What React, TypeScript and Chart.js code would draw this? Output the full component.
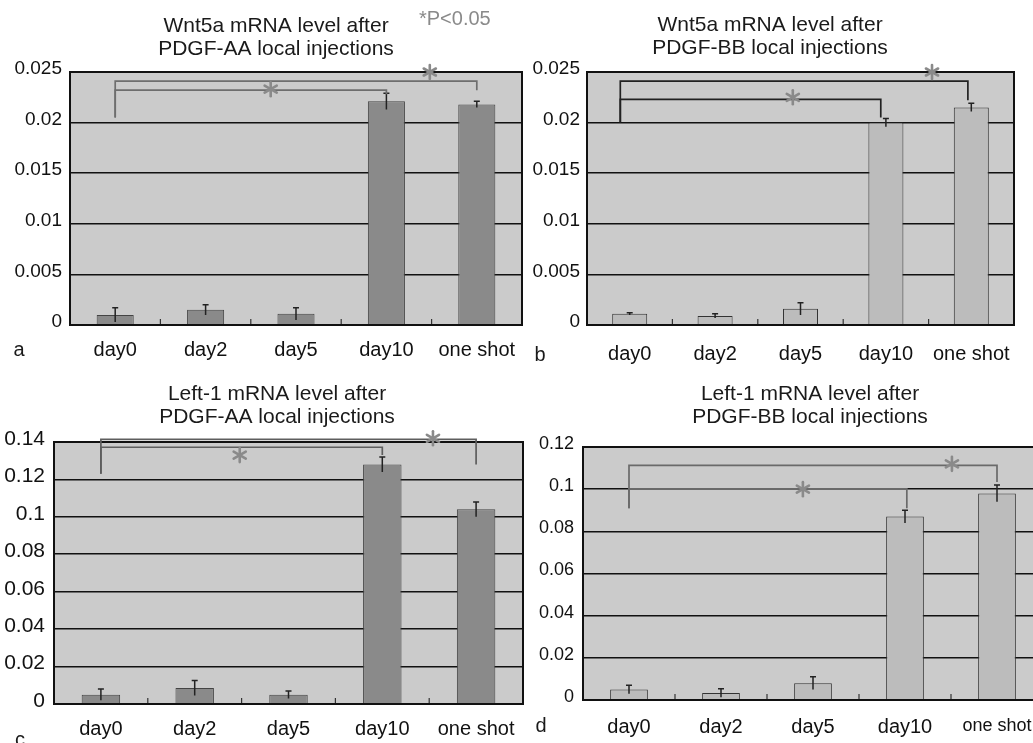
import React, { useEffect, useRef } from "react";
import { Chart, registerables } from "chart.js";
Chart.register(...registerables);

const categories = ["day0", "day2", "day5", "day10", "one shot"];

const wntAAValues = [0.001, 0.0015, 0.0011, 0.0221, 0.0218];
const wntAAErrors = [0.0007, 0.0005, 0.0006, 0.0008, 0.0003];
const wntBBValues = [0.0011, 0.0009, 0.0016, 0.02, 0.0215];
const wntBBErrors = [0.0001, 0.0002, 0.0006, 0.0004, 0.0004];
const leftyAAValues = [0.005, 0.0085, 0.005, 0.128, 0.104];
const leftyAAErrors = [0.003, 0.004, 0.002, 0.004, 0.004];
const leftyBBValues = [0.005, 0.0033, 0.008, 0.087, 0.098];
const leftyBBErrors = [0.002, 0.002, 0.003, 0.003, 0.004];

const wntTicks = ["0", "0.005", "0.01", "0.015", "0.02", "0.025"];
const leftyAATicks = ["0", "0.02", "0.04", "0.06", "0.08", "0.1", "0.12", "0.14"];
const leftyBBTicks = ["0", "0.02", "0.04", "0.06", "0.08", "0.1", "0.12"];

// brackets: [fromIndex, toIndex, lineValue, fromLegValue, toLegValue]
const wntAABrackets = [
  [0, 4, 0.0241, 0.0205, 0.0232],
  [0, 3, 0.0232, 0.0205, 0.0228],
];
const wntBBBrackets = [
  [-0.11, 3.96, 0.0241, 0.02, 0.0222],
  [-0.11, 2.94, 0.0223, 0.02, 0.0205],
];
const leftyAABrackets = [
  [0, 4, 0.1414, 0.123, 0.128],
  [0, 3, 0.1372, 0.123, 0.133],
];
const leftyBBBrackets = [
  [0, 4, 0.1113, 0.091, 0.1034],
  [0, 3.02, 0.1001, 0.091, 0.091],
];
// stars: [index position, value]
const wntAAStars = [[3.48, 0.025], [1.72, 0.0233]];
const wntBBStars = [[3.54, 0.025], [1.91, 0.0225]];
const leftyAAStars = [[3.54, 0.142], [1.48, 0.133]];
const leftyBBStars = [[3.51, 0.112], [1.89, 0.1]];

const SANS = '"Liberation Sans", Arial, sans-serif';

type PanelCfg = {
  box: { left: number; top: number; width: number; height: number };
  area: { left: number; top: number; right: number; bottom: number };
  values: number[];
  errors: number[];
  ticks: string[];
  max: number;
  step: number;
  brackets: number[][];
  stars: number[][];
  title: string[];
  titleX: number;
  titleY: number[];
  letter: string;
  letterX: number;
  letterY: number;
  barFill: string;
  barBorder: string;
  bracketColor: string;
  tickFont: number;
  tickPad: number;
  xPad: number;
  lastLabelSize?: number;
  note?: boolean;
};

const panels: PanelCfg[] = [
  {
    box: { left: 0, top: 0, width: 525, height: 370 },
    area: { left: 70, top: 72, right: 522, bottom: 325 },
    values: wntAAValues, errors: wntAAErrors, ticks: wntTicks, max: 0.025, step: 0.005,
    brackets: wntAABrackets, stars: wntAAStars,
    title: ["Wnt5a mRNA level after", "PDGF-AA local injections"], titleX: 276, titleY: [32, 55],
    letter: "a", letterX: 19, letterY: 356,
    barFill: "#8a8a8a", barBorder: "#444", bracketColor: "#6e6e6e",
    tickFont: 19, tickPad: 8, xPad: 13, note: true,
  },
  {
    box: { left: 525, top: 0, width: 508, height: 370 },
    area: { left: 587, top: 72, right: 1014, bottom: 325 },
    values: wntBBValues, errors: wntBBErrors, ticks: wntTicks, max: 0.025, step: 0.005,
    brackets: wntBBBrackets, stars: wntBBStars,
    title: ["Wnt5a mRNA level after", "PDGF-BB local injections"], titleX: 770, titleY: [31, 54],
    letter: "b", letterX: 540, letterY: 361,
    barFill: "#bcbcbc", barBorder: "#333", bracketColor: "#222",
    tickFont: 19, tickPad: 7, xPad: 17,
  },
  {
    box: { left: 0, top: 370, width: 525, height: 373 },
    area: { left: 54, top: 442, right: 523, bottom: 704 },
    values: leftyAAValues, errors: leftyAAErrors, ticks: leftyAATicks, max: 0.14, step: 0.02,
    brackets: leftyAABrackets, stars: leftyAAStars,
    title: ["Left-1 mRNA level after", "PDGF-AA local injections"], titleX: 277, titleY: [400, 423],
    letter: "c", letterX: 20, letterY: 746,
    barFill: "#8a8a8a", barBorder: "#444", bracketColor: "#5e5e5e",
    tickFont: 21, tickPad: 9, xPad: 13,
  },
  {
    box: { left: 525, top: 370, width: 530, height: 373 },
    area: { left: 583, top: 447, right: 1043, bottom: 700 },
    values: leftyBBValues, errors: leftyBBErrors, ticks: leftyBBTicks, max: 0.12, step: 0.02,
    brackets: leftyBBBrackets, stars: leftyBBStars,
    title: ["Left-1 mRNA level after", "PDGF-BB local injections"], titleX: 810, titleY: [400, 423],
    letter: "d", letterX: 541, letterY: 732,
    barFill: "#bcbcbc", barBorder: "#333", bracketColor: "#6a6a6a",
    tickFont: 18, tickPad: 9, xPad: 15, lastLabelSize: 18,
  },
];

function drawStar(ctx: CanvasRenderingContext2D, x: number, y: number, r: number, color: string) {
  ctx.save();
  ctx.strokeStyle = color;
  ctx.lineWidth = 2.6;
  ctx.lineCap = "round";
  for (let k = 0; k < 3; k++) {
    const a = Math.PI / 2 + (k * Math.PI) / 3;
    ctx.beginPath();
    ctx.moveTo(x + r * Math.cos(a), y + r * Math.sin(a));
    ctx.lineTo(x - r * Math.cos(a), y - r * Math.sin(a));
    ctx.stroke();
  }
  ctx.restore();
}

function zeroPad(scale: any) {
  scale.paddingLeft = 0;
  scale.paddingRight = 0;
  scale.paddingTop = 0;
  scale.paddingBottom = 0;
}

function Panel({ cfg }: { cfg: PanelCfg }) {
  const ref = useRef<HTMLCanvasElement | null>(null);
  useEffect(() => {
    if (!ref.current) return;
    const { box, area } = cfg;
    const ox = box.left;
    const oy = box.top;
    const decor = {
      id: "decor" + cfg.letter,
      beforeDraw(chart: any) {
        const ca = chart.chartArea;
        const ctx = chart.ctx;
        ctx.save();
        ctx.fillStyle = "#cbcbcb";
        ctx.fillRect(ca.left, ca.top, ca.right - ca.left, ca.bottom - ca.top);
        ctx.restore();
      },
      afterDraw(chart: any) {
        const ctx: CanvasRenderingContext2D = chart.ctx;
        const ca = chart.chartArea;
        const xs = chart.scales.x;
        const ys = chart.scales.y;
        const meta = chart.getDatasetMeta(0);
        ctx.save();
        // error bars
        ctx.strokeStyle = "#222";
        ctx.lineWidth = 1.5;
        cfg.values.forEach((v, i) => {
          const e = cfg.errors[i];
          const x = meta.data[i].x;
          const y1 = ys.getPixelForValue(v - e);
          const y2 = ys.getPixelForValue(v + e);
          ctx.beginPath();
          ctx.moveTo(x, y1);
          ctx.lineTo(x, y2);
          ctx.moveTo(x - 3, y2);
          ctx.lineTo(x + 3, y2);
          ctx.stroke();
        });
        // category boundary ticks
        ctx.strokeStyle = "#333";
        ctx.lineWidth = 1.2;
        for (let i = 0; i < categories.length - 1; i++) {
          const x = (xs.getPixelForValue(i) + xs.getPixelForValue(i + 1)) / 2;
          ctx.beginPath();
          ctx.moveTo(x, ca.bottom);
          ctx.lineTo(x, ca.bottom - 6);
          ctx.stroke();
        }
        // plot border
        ctx.strokeStyle = "#111";
        ctx.lineWidth = 2;
        ctx.strokeRect(ca.left, ca.top, ca.right - ca.left, ca.bottom - ca.top);
        // brackets
        ctx.strokeStyle = cfg.bracketColor;
        ctx.lineWidth = 1.7;
        cfg.brackets.forEach((b) => {
          const x0 = xs.getPixelForValue(b[0]);
          const x1 = xs.getPixelForValue(b[1]);
          const yl = ys.getPixelForValue(b[2]);
          ctx.beginPath();
          ctx.moveTo(x0, ys.getPixelForValue(b[3]));
          ctx.lineTo(x0, yl);
          ctx.lineTo(x1, yl);
          ctx.lineTo(x1, ys.getPixelForValue(b[4]));
          ctx.stroke();
        });
        cfg.stars.forEach((s) => {
          drawStar(ctx, xs.getPixelForValue(s[0]), ys.getPixelForValue(s[1]), 7, "#8a8a8a");
        });
        // titles
        ctx.fillStyle = "#1a1a1a";
        ctx.font = `21px ${SANS}`;
        ctx.textAlign = "center";
        ctx.textBaseline = "alphabetic";
        cfg.title.forEach((t, i) => ctx.fillText(t, cfg.titleX - ox, cfg.titleY[i] - oy));
        // panel letter
        ctx.font = `20px ${SANS}`;
        ctx.fillText(cfg.letter, cfg.letterX - ox, cfg.letterY - oy);
        if (cfg.note) {
          ctx.fillStyle = "#8a8a8a";
          ctx.font = `20px ${SANS}`;
          ctx.textAlign = "left";
          ctx.fillText("*P<0.05", 419 - ox, 25 - oy);
        }
        ctx.restore();
      },
    };
    const chart = new Chart(ref.current, {
      type: "bar",
      data: {
        labels: categories,
        datasets: [
          {
            data: cfg.values,
            backgroundColor: cfg.barFill,
            borderColor: cfg.barBorder,
            borderWidth: 1,
            barPercentage: 0.41,
            categoryPercentage: 1,
          },
        ],
      },
      options: {
        animation: false,
        responsive: false,
        devicePixelRatio: 1,
        layout: {
          autoPadding: false,
          padding: {
            top: area.top - box.top,
            left: 0,
            right: box.left + box.width - area.right,
            bottom: 0,
          },
        },
        plugins: { legend: { display: false }, tooltip: { enabled: false }, title: { display: false } },
        scales: {
          x: {
            offset: true,
            grid: { display: false, drawTicks: false },
            border: { display: false },
            ticks: {
              color: "#111",
              padding: cfg.xPad,
              maxRotation: 0,
              autoSkip: false,
              font: (c: any) => ({
                family: SANS,
                size: cfg.lastLabelSize && c.index === categories.length - 1 ? cfg.lastLabelSize : 20,
              }),
            },
            afterFit: (scale: any) => {
              scale.height = box.top + box.height - area.bottom;
              zeroPad(scale);
            },
          },
          y: {
            min: 0,
            max: cfg.max,
            grid: { color: "#111", lineWidth: 1.6, drawTicks: false },
            border: { display: false },
            ticks: {
              stepSize: cfg.step,
              color: "#111",
              padding: cfg.tickPad,
              labelOffset: -3,
              font: { family: SANS, size: cfg.tickFont },
              callback: (value: any) => {
                const idx = Math.round(Number(value) / cfg.step);
                return cfg.ticks[idx] ?? "";
              },
            },
            afterFit: (scale: any) => {
              scale.width = area.left - box.left;
              zeroPad(scale);
            },
          },
        },
      },
      plugins: [decor],
    } as any);
    return () => chart.destroy();
  }, [cfg]);
  return (
    <canvas
      ref={ref}
      width={cfg.box.width}
      height={cfg.box.height}
      style={{
        position: "absolute",
        left: cfg.box.left,
        top: cfg.box.top,
        width: cfg.box.width,
        height: cfg.box.height,
      }}
    />
  );
}

export default function App() {
  return (
    <div
      style={{
        position: "absolute",
        left: 0,
        top: 0,
        width: 1033,
        height: 743,
        overflow: "hidden",
        background: "#fff",
      }}
    >
      {panels.map((p) => (
        <Panel key={p.letter} cfg={p} />
      ))}
    </div>
  );
}
